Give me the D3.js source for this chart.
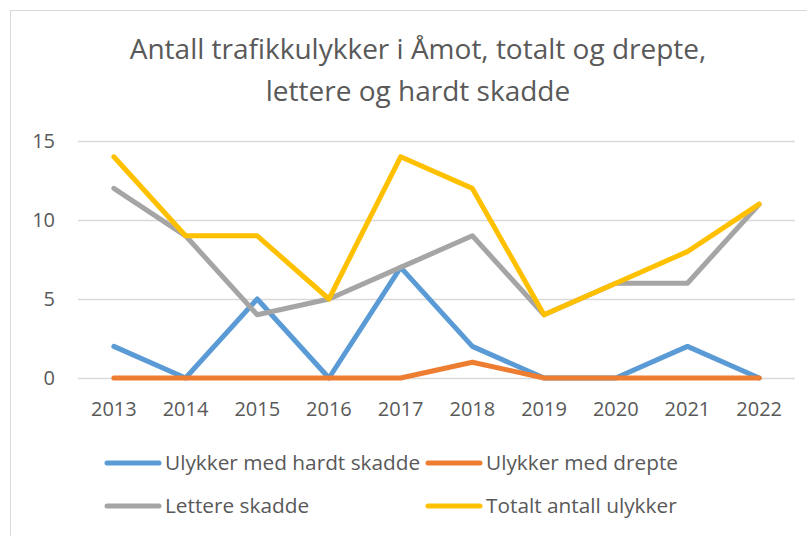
<!DOCTYPE html>
<html>
<head>
<meta charset="utf-8">
<script src="https://cdn.jsdelivr.net/npm/d3@7"></script>
<style>
  body { margin: 0; background: #fff; }
  svg { display: block; font-family: "Liberation Sans Narrow", "Open Sans", sans-serif; }
</style>
</head>
<body>
<svg id="chart" width="807" height="536"></svg>
<script>
// data
const years = ["2013", "2014", "2015", "2016", "2017", "2018", "2019", "2020", "2021", "2022"];
const hardtSkadde = [2, 0, 5, 0, 7, 2, 0, 0, 2, 0];
const drepte = [0, 0, 0, 0, 0, 1, 0, 0, 0, 0];
const lettereSkadde = [12, 9, 4, 5, 7, 9, 4, 6, 6, 11];
const totalt = [14, 9, 9, 5, 14, 12, 4, 6, 8, 11];
const yTicks = [0, 5, 10, 15];

const series = [
  { name: "Ulykker med hardt skadde", values: hardtSkadde, color: "#5B9BD5" },
  { name: "Ulykker med drepte", values: drepte, color: "#ED7D31" },
  { name: "Lettere skadde", values: lettereSkadde, color: "#A5A5A5" },
  { name: "Totalt antall ulykker", values: totalt, color: "#FFC000" }
];

const svg = d3.select("#chart");
const textColor = "#595959";

// chart frame
svg.append("rect")
  .attr("x", 10.5).attr("y", 10.5)
  .attr("width", 820).attr("height", 560)
  .attr("fill", "#fff").attr("stroke", "#d9d9d9");

// title
const title = svg.append("text")
  .attr("text-anchor", "middle")
  .attr("fill", textColor)
  .attr("font-size", 28);
title.append("tspan").attr("x", 418).attr("y", 59).text("Antall trafikkulykker i Åmot, totalt og drepte,");
title.append("tspan").attr("x", 418).attr("y", 101).text("lettere og hardt skadde");

const x = d3.scalePoint().domain(years).range([78, 795]).padding(0.5);
const y = d3.scaleLinear().domain([0, 15]).range([378, 141]);

// gridlines
svg.append("g")
  .selectAll("line")
  .data(yTicks)
  .join("line")
  .attr("x1", 78).attr("x2", 795)
  .attr("y1", d => y(d) + 0.5).attr("y2", d => y(d) + 0.5)
  .attr("stroke", "#d9d9d9").attr("stroke-width", 1.5);

// y labels
svg.append("g")
  .selectAll("text")
  .data(yTicks)
  .join("text")
  .attr("x", 55).attr("y", d => y(d) + 7)
  .attr("text-anchor", "end")
  .attr("fill", textColor)
  .attr("font-size", 20)
  .text(d => d);

// x labels
svg.append("g")
  .selectAll("text")
  .data(years)
  .join("text")
  .attr("x", d => x(d)).attr("y", 416)
  .attr("text-anchor", "middle")
  .attr("fill", textColor)
  .attr("font-size", 20)
  .text(d => d);

// lines
const line = d3.line()
  .x((d, i) => x(years[i]))
  .y(d => y(d));

svg.append("g")
  .selectAll("path")
  .data(series)
  .join("path")
  .attr("d", d => line(d.values))
  .attr("fill", "none")
  .attr("stroke", d => d.color)
  .attr("stroke-width", 5)
  .attr("stroke-linejoin", "round")
  .attr("stroke-linecap", "round");

// legend
const legendPos = [[107, 463], [428, 463], [107, 506], [428, 506]];
const legend = svg.append("g")
  .selectAll("g")
  .data(series)
  .join("g")
  .attr("transform", (d, i) => `translate(${legendPos[i][0]},${legendPos[i][1]})`);

legend.append("line")
  .attr("x1", 0).attr("x2", 52)
  .attr("stroke", d => d.color)
  .attr("stroke-width", 5)
  .attr("stroke-linecap", "round");

legend.append("text")
  .attr("x", 58).attr("y", 7)
  .attr("fill", textColor)
  .attr("font-size", 20.8)
  .text(d => d.name);
</script>
</body>
</html>
